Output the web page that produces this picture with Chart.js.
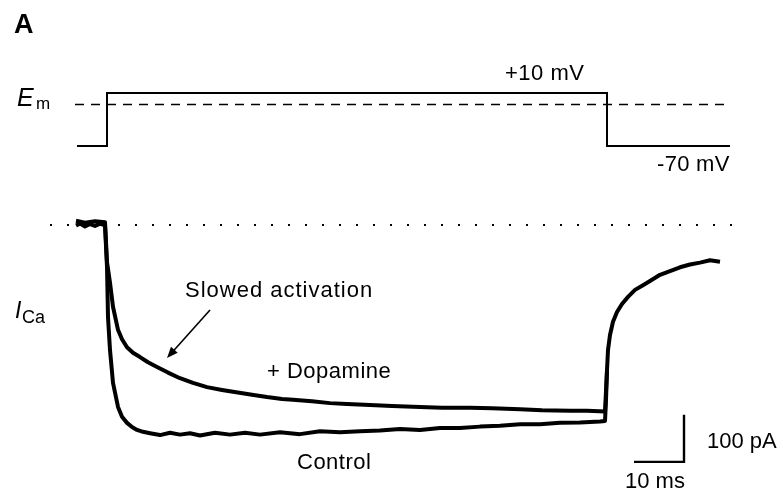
<!DOCTYPE html>
<html>
<head>
<meta charset="utf-8">
<script src="https://cdn.jsdelivr.net/npm/chart.js@4/dist/chart.umd.min.js"></script>
<style>
html,body{margin:0;padding:0;background:#fff;}
#wrap{width:783px;height:492px;position:relative;}
</style>
</head>
<body>
<div id="wrap"><canvas id="c"></canvas></div>
<script>
// ---- Data (time in ms from step onset, current in pA, voltage in mV) ----
const commandTime = [-6, 0, 0, 100, 100, 124.6];
const commandVolt = [-70, -70, 10, 10, -70, -70];

const refLineTime = [-6.4, 124.6];
const refLineVolt = [-7.4, -7.4];

const controlTime = [-6.2,-5.4,-4.4,-3.4,-2.4,-1.4,-0.4,0,0.2,0.6,1.2,2.2,3.0,4.0,5.0,6.0,7.2,8.6,10.6,12.6,14.6,16.6,18.6,21.6,24.6,27.6,30.6,34.6,38.6,42.6,46.6,50.6,54.6,58.6,62.6,66.6,70.6,74.6,78.6,82.6,86.6,90.6,94.6,98.6,99.6,99.8,100.0,100.2,100.6,101.2,102.0,103.0,104.2,105.6,107.2,108.6,110.6,112.6,114.6,116.6,118.6,120.6,122.6];
const controlCurrent = [-1,3,-3,2,-2,3,-1,-89,-196,-266,-336,-387,-408,-421,-430,-436,-440,-443,-447,-442,-446,-443,-448,-442,-446,-442,-446,-441,-445,-439,-441,-439,-437,-434,-436,-432,-432,-429,-427,-424,-424,-421,-420,-418,-417,-372,-309,-266,-234,-206,-185,-168,-153,-138,-128,-119,-106,-98,-90,-84,-80,-75,-78];

const dopamineTime = [-6.2,-4.4,-2.4,-0.4,0,0.6,1.2,2.2,3.0,4.0,5.2,6.6,8.2,10.0,12.2,14.6,17.2,20.0,23.0,25.2,29.0,32.0,35.0,37.2,41.0,44.6,48.0,52.6,57.0,62.6,67.0,72.6,77.0,82.6,87.0,92.6,96.0,99.6,100.0];
const dopamineCurrent = [9,5,8,6,-79,-123,-174,-223,-243,-260,-272,-281,-292,-302,-314,-326,-336,-345,-351,-355,-361,-366,-370,-372,-375,-379,-381,-383,-385,-387,-389,-389,-390,-392,-394,-395,-395,-397,-309];

const baselineTime = [-11.4, 125.2];
const baselineCurrent = [0, 0];

const scaleBarTime = [105.4, 115.4, 115.4];     // 10 ms
const scaleBarCurrent = [-504, -504, -404];     // 100 pA

// ---- Annotations (data units) ----
const labels = [
  {text:'A', t:-18.6, v:100.6, axis:'yV', font:'bold 27px "Liberation Sans"'},
  {text:'E', t:-18, v:-9.6, axis:'yV', font:'italic 25px "Liberation Sans"'},
  {text:'m', t:-14.2, v:-14.2, axis:'yV', font:'17px "Liberation Sans"'},
  {text:'+10 mV', t:79.6, v:29.6, axis:'yV', font:'22px "Liberation Sans"', ls:0.5},
  {text:'-70 mV', t:110, v:-107.7, axis:'yV', font:'22px "Liberation Sans"', ls:0.3},
  {text:'I', t:-18.4, v:-198, axis:'y', font:'italic 23px "Liberation Sans"'},
  {text:'Ca', t:-17.0, v:-208.5, axis:'y', font:'18px "Liberation Sans"'},
  {text:'Slowed activation', t:15.6, v:-153, axis:'y', font:'22px "Liberation Sans"', ls:1},
  {text:'+ Dopamine', t:32, v:-325.5, axis:'y', font:'22px "Liberation Sans"', ls:0.5},
  {text:'Control', t:38, v:-519, axis:'y', font:'22px "Liberation Sans"', ls:0.5},
  {text:'100 pA', t:120, v:-474.5, axis:'y', font:'22px "Liberation Sans"'},
  {text:'10 ms', t:103.6, v:-559.6, axis:'y', font:'22px "Liberation Sans"'}
];
const arrowFrom = {t:20.6, v:-181};
const arrowTo = {t:12.0, v:-283};

function pts(xs, ys){ const n=Math.min(xs.length, ys.length); const o=[]; for(let i=0;i<n;i++) o.push({x:xs[i], y:ys[i]}); return o; }

const annotPlugin = {
  id:'annot',
  afterDatasetsDraw(chart){
    const ctx = chart.ctx, sx = chart.scales.x;
    ctx.save();
    ctx.fillStyle = '#000';
    ctx.textBaseline = 'alphabetic';
    ctx.textAlign = 'left';
    labels.forEach(l => {
      ctx.font = l.font;
      ctx.letterSpacing = (l.ls || 0) + 'px';
      ctx.fillText(l.text, sx.getPixelForValue(l.t), chart.scales[l.axis].getPixelForValue(l.v));
    });
    ctx.letterSpacing = '0px';
    // arrow
    const sy = chart.scales.y;
    const x1 = sx.getPixelForValue(arrowFrom.t), y1 = sy.getPixelForValue(arrowFrom.v);
    const x2 = sx.getPixelForValue(arrowTo.t), y2 = sy.getPixelForValue(arrowTo.v);
    const ang = Math.atan2(y2-y1, x2-x1), L = 11, W = 4.5;
    ctx.strokeStyle = '#000'; ctx.lineWidth = 1.6;
    ctx.beginPath(); ctx.moveTo(x1,y1);
    ctx.lineTo(x2 - Math.cos(ang)*L*0.8, y2 - Math.sin(ang)*L*0.8); ctx.stroke();
    ctx.beginPath();
    ctx.moveTo(x2,y2);
    ctx.lineTo(x2 - Math.cos(ang)*L - Math.sin(ang)*W, y2 - Math.sin(ang)*L + Math.cos(ang)*W);
    ctx.lineTo(x2 - Math.cos(ang)*L + Math.sin(ang)*W, y2 - Math.sin(ang)*L - Math.cos(ang)*W);
    ctx.closePath(); ctx.fill();
    ctx.restore();
  }
};

new Chart(document.getElementById('c'), {
  type:'line',
  data:{
    datasets:[
      {label:'Command', data:pts(commandTime, commandVolt), yAxisID:'yV', borderColor:'#000', borderWidth:2, pointRadius:0, tension:0},
      {label:'Reference', data:pts(refLineTime, refLineVolt), yAxisID:'yV', borderColor:'#000', borderWidth:1.6, borderDash:[9,7], pointRadius:0},
      {label:'Baseline', data:pts(baselineTime, baselineCurrent), yAxisID:'y', borderColor:'#000', borderWidth:2.2, borderDash:[2,15], pointRadius:0},
      {label:'+ Dopamine', data:pts(dopamineTime, dopamineCurrent), yAxisID:'y', borderColor:'#000', borderWidth:4, pointRadius:0, tension:0, borderJoinStyle:'round'},
      {label:'Control', data:pts(controlTime, controlCurrent), yAxisID:'y', borderColor:'#000', borderWidth:4, pointRadius:0, tension:0, borderJoinStyle:'round'},
      {label:'Scale bar', data:pts(scaleBarTime, scaleBarCurrent), yAxisID:'y', borderColor:'#000', borderWidth:2.4, pointRadius:0, tension:0}
    ]
  },
  options:{
    responsive:true, maintainAspectRatio:false, animation:false,
    layout:{padding:0},
    plugins:{legend:{display:false}, tooltip:{enabled:false}},
    scales:{
      x:{type:'linear', min:-21.4, max:135.2, display:false},
      y:{type:'linear', min:-568.1, max:478.7, display:false},
      yV:{type:'linear', min:-592.3, max:150.4, display:false}
    }
  },
  plugins:[annotPlugin]
});
</script>
</body>
</html>
